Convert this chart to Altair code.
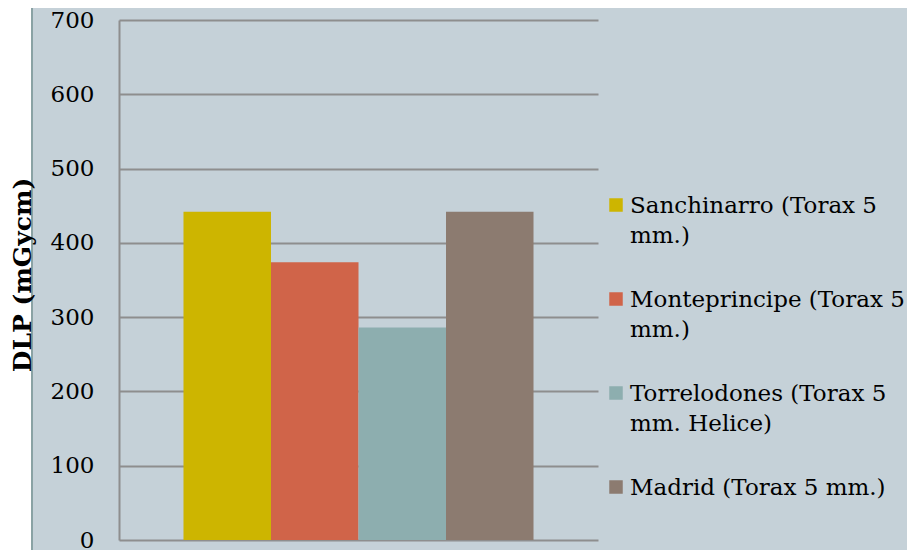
import altair as alt
import pandas as pd

series = [
    "Sanchinarro (Torax 5 mm.)",
    "Monteprincipe (Torax 5 mm.)",
    "Torrelodones (Torax 5 mm. Helice)",
    "Madrid (Torax 5 mm.)",
]
legend_labels = [
    "Sanchinarro (Torax 5\nmm.)",
    "Monteprincipe (Torax 5\nmm.)",
    "Torrelodones (Torax 5\nmm. Helice)",
    "Madrid (Torax 5 mm.)",
]
values = [442, 374, 286, 442]
colors = ["#CDB500", "#D06449", "#8DAEAF", "#8C7B70"]
y_ticks = [0, 100, 200, 300, 400, 500, 600, 700]
y_title = ["DLP (mGycm)"]

df = pd.DataFrame({"series": series, "label": legend_labels, "value": values})

FONT = "DejaVu Serif"
BG = "#C5D1D8"
GRID = "#8E8E8E"

color_scale = alt.Scale(domain=series, range=colors)

bars = alt.Chart(df).mark_bar(opacity=1).encode(
    x=alt.X("series:N", sort=series, axis=None,
            scale=alt.Scale(paddingInner=0, paddingOuter=0.737)),
    y=alt.Y("value:Q", scale=alt.Scale(domain=[0, 700], nice=False),
            axis=alt.Axis(values=y_ticks, ticks=False, domainColor=GRID, domainWidth=2,
                          gridColor=GRID, gridWidth=2, labelFont=FONT, labelFontSize=23,
                          labelColor="#000000", labelPadding=25, title=None)),
    color=alt.Color("series:N", scale=color_scale, legend=None),
)

leg_y = alt.Y("series:N", sort=series, axis=None,
              scale=alt.Scale(type="point", range=[185, 467], padding=0))

leg_sq = alt.Chart(df).mark_square(size=182, opacity=1).encode(
    x=alt.value(497),
    y=leg_y,
    color=alt.Color("series:N", scale=color_scale, legend=None),
)

leg_txt = alt.Chart(df).mark_text(align="left", baseline="alphabetic", dy=8,
                                  lineBreak="\n", lineHeight=30, font=FONT,
                                  fontSize=23, color="#000000").encode(
    x=alt.value(511),
    y=leg_y,
    text="label:N",
)

one = alt.Data(values=[{"k": 1}])
strip = alt.Chart(one).mark_rect(color="white").encode(
    x=alt.value(-112), x2=alt.value(-88), y=alt.value(-13), y2=alt.value(531)
)
edge = alt.Chart(one).mark_rule(color="#8AA2A4", strokeWidth=2).encode(
    x=alt.value(-87), y=alt.value(-13), y2=alt.value(531)
)

title_df = pd.DataFrame({"t": y_title})
title = alt.Chart(title_df).mark_text(angle=270, align="center", baseline="middle",
                                      font=FONT, fontSize=25, fontWeight="bold",
                                      color="#000000").encode(
    x=alt.value(-96), y=alt.value(255), text="t:N"
)

chart = alt.layer(strip, edge, bars, leg_sq, leg_txt, title).resolve_scale(
    y="independent", x="independent", color="shared"
).properties(
    width=479, height=520,
    autosize=alt.AutoSizeParams(type="none"),
    padding={"left": 111, "top": 12, "right": 309, "bottom": 10},
    background=BG,
).configure_view(strokeWidth=0)

chart.save("out.html", embed_options={"renderer": "svg", "actions": False})
